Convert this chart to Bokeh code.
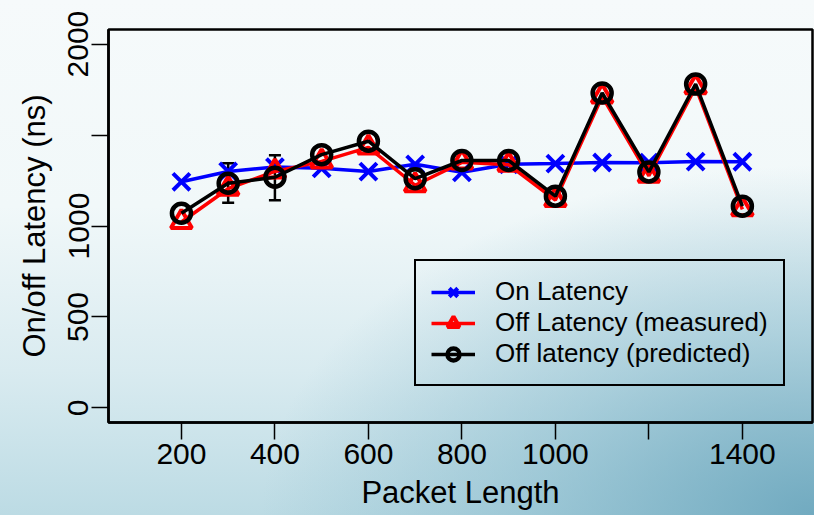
from bokeh.plotting import figure
from bokeh.models import Range1d, FixedTicker, Legend, LegendItem, Whisker, ColumnDataSource, TeeHead
from bokeh.embed import file_html
from bokeh.resources import INLINE

packet_length = [200, 300, 400, 500, 600, 700, 800, 900, 1000, 1100, 1200, 1300, 1400]
on_latency = [1243, 1300, 1324, 1317, 1299, 1339, 1295, 1339, 1343, 1349, 1348, 1354, 1353]
off_measured = [1022, 1205, 1300, 1355, 1432, 1224, 1350, 1337, 1143, 1712, 1276, 1763, 1092]
off_predicted = [1070, 1235, 1268, 1392, 1466, 1260, 1360, 1360, 1164, 1731, 1297, 1780, 1109]
err_x = [300, 400]
err_lower = [1128, 1141]
err_upper = [1345, 1389]
x_ticks = [200, 400, 600, 800, 1000, 1200, 1400]
x_tick_labels = ["200", "400", "600", "800", "1000", "", "1400"]
y_ticks = [0, 500, 1000, 1500, 2000]
y_tick_labels = ["0", "500", "1000", "", "2000"]

FONT = "Liberation Sans"

p = figure(width=814, height=515, output_backend="svg", toolbar_location=None,
           x_range=Range1d(44, 1550), y_range=Range1d(-80, 2080),
           min_border_left=108, min_border_right=2, min_border_top=29, min_border_bottom=93)

p.styles = {"background": "radial-gradient(ellipse at 100% 100%, rgba(105,165,188,0.9) 0%, rgba(125,180,200,0.5) 25%, rgba(150,195,210,0) 48%), linear-gradient(to bottom, #f6fafb 0%, #f1f8f9 40%, #d9ebf0 72%, #bcdbe4 100%)"}
p.border_fill_alpha = 0
p.background_fill_alpha = 0
p.outline_line_color = "black"
p.outline_line_width = 2.5
p.grid.visible = False

for ax in (p.xaxis[0], p.yaxis[0]):
    ax.axis_line_color = "black"
    ax.axis_line_width = 2.5
    ax.major_tick_in = 0
    ax.major_tick_out = 17
    ax.major_tick_line_width = 1.5
    ax.minor_tick_line_color = None
    ax.major_label_text_font = FONT
    ax.major_label_text_font_size = "30px"
    ax.major_label_text_color = "black"
    ax.axis_label_text_font = FONT
    ax.axis_label_text_font_size = "31px"
    ax.axis_label_text_font_style = "normal"
    ax.axis_label_text_color = "black"

p.xaxis.ticker = FixedTicker(ticks=x_ticks)
p.xaxis.major_label_overrides = dict(zip(x_ticks, x_tick_labels))
p.yaxis.ticker = FixedTicker(ticks=y_ticks)
p.yaxis.major_label_overrides = dict(zip(y_ticks, y_tick_labels))
p.yaxis.major_label_orientation = "vertical"
p.xaxis.axis_label = "Packet Length"
p.yaxis.axis_label = "On/off Latency (ns)"
p.xaxis.major_label_standoff = 4
p.yaxis.major_label_standoff = 3
p.xaxis.axis_label_standoff = 8
p.yaxis.axis_label_standoff = 14

l1 = p.line(packet_length, on_latency, line_color="blue", line_width=3.5)
s1 = p.scatter(packet_length, on_latency, marker="x", size=24, line_color="blue", line_width=4)
l2 = p.line(packet_length, off_measured, line_color="red", line_width=3.5)
s2 = p.scatter(packet_length, off_measured, marker="triangle", size=21, line_color="red",
               fill_alpha=0, line_width=4)
l3 = p.line(packet_length, off_predicted, line_color="black", line_width=3.5)
s3 = p.scatter(packet_length, off_predicted, marker="circle", size=19, line_color="black",
               fill_alpha=0, line_width=4.5)

src = ColumnDataSource(dict(x=err_x, lower=err_lower, upper=err_upper))
w = Whisker(base="x", lower="lower", upper="upper", source=src, line_color="black", line_width=2.5,
            upper_head=TeeHead(size=12, line_width=2.5, line_color="black"),
            lower_head=TeeHead(size=12, line_width=2.5, line_color="black"))
p.add_layout(w)

legend = Legend(items=[
    LegendItem(label="On Latency", renderers=[l1, s1]),
    LegendItem(label="Off Latency (measured)", renderers=[l2, s2]),
    LegendItem(label="Off latency (predicted)", renderers=[l3, s3]),
], location=(306, 36))
legend.label_text_font = FONT
legend.label_text_font_size = "26px"
legend.label_text_color = "black"
legend.glyph_width = 44
legend.glyph_height = 30
legend.label_height = 30
legend.spacing = 0
legend.padding = 15
legend.label_standoff = 20
legend.margin = 0
legend.border_line_color = "black"
legend.border_line_alpha = 1
legend.border_line_width = 2.5
legend.background_fill_alpha = 0
p.add_layout(legend, "center")

open("out.html", "w").write(file_html(p, INLINE))
